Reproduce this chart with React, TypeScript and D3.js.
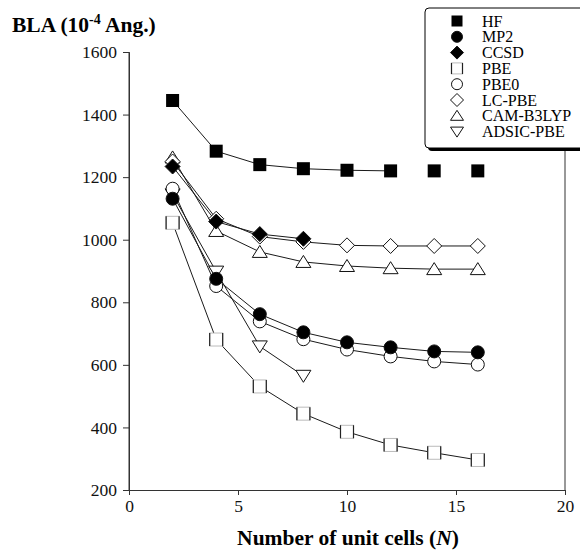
import React, { useEffect, useRef } from "react";
import * as d3 from "d3";

const cells = [2, 4, 6, 8, 10, 12, 14, 16];
const hf = [1445, 1283, 1240, 1227, 1222, 1220, 1220, 1220];
const mp2 = [1131, 875, 762, 704, 672, 656, 643, 640];
const ccsd = [1234, 1058, 1018, 1003];
const pbe = [1054, 681, 531, 444, 386, 344, 319, 296];
const pbe0 = [1163, 852, 739, 682, 649, 627, 611, 601];
const lcpbe = [1250, 1067, 1010, 993, 982, 980, 980, 980];
const cam = [1263, 1028, 961, 929, 916, 909, 906, 906];
const adsic = [1145, 898, 659, 565];

const yTicks = [200, 400, 600, 800, 1000, 1200, 1400, 1600];
const xTicks = [0, 5, 10, 15, 20];

// name, values, marker, how many points get joined by the line
const series = [
  { name: "HF", values: hf, marker: "square", joined: 6 },
  { name: "MP2", values: mp2, marker: "circle", joined: 8 },
  { name: "CCSD", values: ccsd, marker: "diamondFill", joined: 4 },
  { name: "PBE", values: pbe, marker: "openSquare", joined: 8 },
  { name: "PBE0", values: pbe0, marker: "openCircle", joined: 8 },
  { name: "LC-PBE", values: lcpbe, marker: "diamond", joined: 8 },
  { name: "CAM-B3LYP", values: cam, marker: "triUp", joined: 8 },
  { name: "ADSIC-PBE", values: adsic, marker: "triDown", joined: 4 },
];

const FONT = "'Liberation Serif', 'Times New Roman', serif";

function drawMarker(g, kind, x, y, s) {
  const h = s / 2;
  if (kind === "square") {
    g.append("rect").attr("x", x - h).attr("y", y - h).attr("width", s).attr("height", s).attr("fill", "#000");
  } else if (kind === "circle" || kind === "openCircle") {
    g.append("circle").attr("cx", x).attr("cy", y).attr("r", h)
      .attr("fill", kind === "circle" ? "#000" : "#fff")
      .attr("stroke", "#111").attr("stroke-width", 1);
  } else if (kind === "diamond" || kind === "diamondFill") {
    const d = h + 1;
    g.append("path")
      .attr("d", `M${x},${y - d}L${x + d},${y}L${x},${y + d}L${x - d},${y}Z`)
      .attr("fill", kind === "diamondFill" ? "#000" : "#fff")
      .attr("stroke", "#111").attr("stroke-width", 1);
  } else if (kind === "openSquare") {
    g.append("rect").attr("x", x - h).attr("y", y - h).attr("width", s).attr("height", s)
      .attr("fill", "#fff").attr("stroke", "#bbb").attr("stroke-width", 1);
    g.append("path")
      .attr("d", `M${x - h},${y - h}V${y + h}M${x + h},${y - h}V${y + h}`)
      .attr("stroke", "#222").attr("stroke-width", 1.2);
  } else if (kind === "triUp") {
    g.append("path")
      .attr("d", `M${x},${y - h}L${x + h + 1},${y + h - 1}L${x - h - 1},${y + h - 1}Z`)
      .attr("fill", "#fff").attr("stroke", "#111").attr("stroke-width", 1);
  } else if (kind === "triDown") {
    g.append("path")
      .attr("d", `M${x},${y + h}L${x + h + 1},${y - h + 1}L${x - h - 1},${y - h + 1}Z`)
      .attr("fill", "#fff").attr("stroke", "#111").attr("stroke-width", 1);
  }
}

const App = () => {
  const svgRef = useRef(null);

  useEffect(() => {
    const width = 580, height = 550;
    const svg = d3.select(svgRef.current);
    svg.selectAll("*").remove();
    svg.attr("width", width).attr("height", height);

    const x = d3.scaleLinear().domain([0, 20]).range([129, 565]);
    const y = d3.scaleLinear().domain([200, 1600]).range([490, 52]);

    // frame: left axis, bottom axis, right line
    const axisColor = "#333";
    svg.append("line").attr("x1", x(0)).attr("x2", x(0)).attr("y1", y(1600)).attr("y2", y(200))
      .attr("stroke", axisColor);
    svg.append("line").attr("x1", x(20)).attr("x2", x(20)).attr("y1", y(1600)).attr("y2", y(200))
      .attr("stroke", axisColor);

    const xAxis = svg.append("g")
      .attr("transform", `translate(0, ${y(200)})`)
      .call(d3.axisBottom(x).tickValues(xTicks).tickSize(5).tickPadding(5).tickFormat(d3.format("d")));
    const yAxis = svg.append("g")
      .attr("transform", `translate(${x(0)}, 0)`)
      .call(d3.axisLeft(y).tickValues(yTicks).tickSize(6).tickPadding(6).tickFormat(d3.format("d")));
    [xAxis, yAxis].forEach(a => {
      a.attr("font-family", FONT);
      a.select(".domain").attr("stroke", axisColor);
      a.selectAll(".tick line").attr("stroke", axisColor);
      a.selectAll("text").attr("font-family", FONT).attr("font-size", 17.5).attr("fill", "#111");
    });

    // lines first, markers on top (drawn last series first)
    const line = d3.line().x((d, i) => x(cells[i])).y(d => y(d));
    series.forEach(s => {
      const pts = s.values.slice(0, s.joined);
      svg.append("path")
        .attr("d", line(pts))
        .attr("fill", "none")
        .attr("stroke", "#1a1a1a")
        .attr("stroke-width", 1);
    });
    series.slice().reverse().forEach(s => {
      const g = svg.append("g");
      s.values.forEach((v, i) => drawMarker(g, s.marker, x(cells[i]), y(v), 13));
    });

    // legend
    const lg = svg.append("g");
    lg.append("rect").attr("x", 428).attr("y", 11).attr("width", 170).attr("height", 140)
      .attr("rx", 4).attr("fill", "#000");
    lg.append("rect").attr("x", 425).attr("y", 8).attr("width", 170).attr("height", 140)
      .attr("rx", 4).attr("fill", "#fff").attr("stroke", "#000").attr("stroke-width", 1);
    series.forEach((s, i) => {
      const ly = 21 + i * 15.8;
      drawMarker(lg, s.marker, 457, ly, 11);
      lg.append("text")
        .attr("x", 482).attr("y", ly)
        .attr("dy", "0.35em")
        .attr("font-family", FONT).attr("font-size", 16)
        .text(s.name);
    });

    // axis titles
    const yt = svg.append("text")
      .attr("x", 12).attr("y", 32)
      .attr("font-family", FONT).attr("font-size", 21.5).attr("font-weight", "bold");
    yt.append("tspan").text("BLA (10");
    yt.append("tspan").attr("dy", -8).attr("font-size", 14).text("-4");
    yt.append("tspan").attr("dy", 8).text(" Ang.)");

    const xt = svg.append("text")
      .attr("x", 348).attr("y", 545)
      .attr("text-anchor", "middle")
      .attr("font-family", FONT).attr("font-size", 21.5).attr("font-weight", "bold");
    xt.append("tspan").text("Number of unit cells (");
    xt.append("tspan").attr("font-style", "italic").text("N");
    xt.append("tspan").text(")");
  }, []);

  return <svg ref={svgRef} style={{ position: "absolute", left: 0, top: 0, display: "block" }}></svg>;
};

export default App;
